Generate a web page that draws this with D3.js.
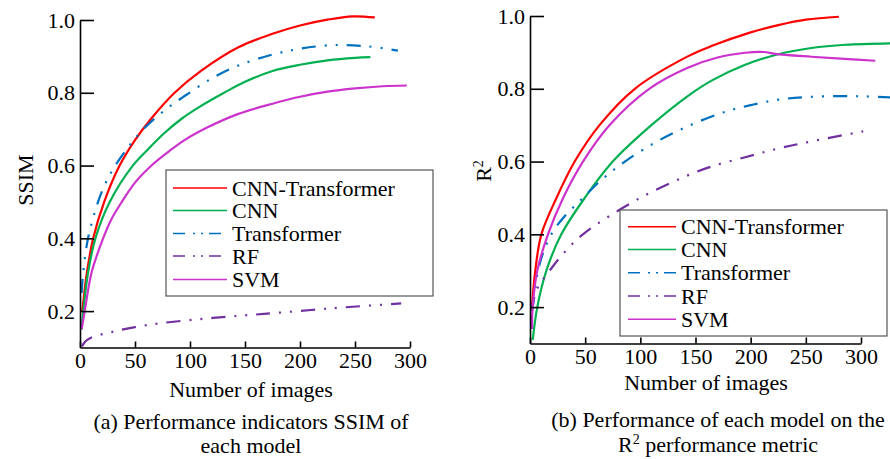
<!DOCTYPE html>
<html>
<head>
<meta charset="utf-8">
<script src="https://cdn.jsdelivr.net/npm/d3@7"></script>
<style>
  html, body { margin: 0; padding: 0; background: #ffffff; }
  svg { display: block; }
  text { font-family: "Liberation Serif", "Times New Roman", serif; fill: #000; }
</style>
</head>
<body>
<svg id="chart" width="890" height="459" font-family="Liberation Serif, Times New Roman, serif"></svg>
<script>
// ---------- data ----------
const seriesNames = ["CNN-Transformer", "CNN", "Transformer", "RF", "SVM"];
const seriesColors = ["#ff0000", "#00b050", "#0070c0", "#7030a0", "#cc33cc"];
const seriesDashed = [false, false, true, true, false];

const xTickValues = [0, 50, 100, 150, 200, 250, 300];
const yTickValues = [0.2, 0.4, 0.6, 0.8, 1.0];

// (a) SSIM  — [number of images, SSIM]
const ssimCnnTransformer = [[2,0.2],[3,0.225],[6,0.30],[12,0.40],[22,0.50],[36,0.60],[50,0.67],[65,0.73],[86,0.80],[110,0.86],[144,0.925],[175,0.962],[200,0.985],[225,1.001],[248,1.01],[268,1.007]];
const ssimCnn = [[1.5,0.15],[3,0.2],[7,0.30],[14,0.40],[27,0.50],[48,0.60],[62,0.645],[77,0.69],[93,0.73],[109,0.762],[131,0.80],[150,0.83],[175,0.86],[200,0.877],[225,0.889],[250,0.896],[264,0.898]];
const ssimTransformer = [[1.5,0.25],[2.7,0.30],[7.3,0.40],[16.4,0.50],[23,0.55],[30,0.59],[40,0.635],[54.5,0.69],[70,0.735],[85,0.77],[98,0.797],[120,0.84],[144,0.875],[175,0.905],[200,0.921],[230,0.931],[260,0.928],[289,0.916]];
const ssimRF = [[1.8,0.103],[5,0.117],[10,0.127],[28,0.142],[50,0.156],[74,0.167],[109,0.178],[144,0.187],[170,0.193],[230,0.208],[292,0.221]];
const ssimSVM = [[1.5,0.15],[4.3,0.20],[10,0.30],[15,0.35],[21,0.40],[29,0.455],[38,0.50],[50,0.553],[65,0.60],[80,0.637],[94,0.668],[116,0.705],[144,0.742],[175,0.77],[200,0.789],[225,0.803],[250,0.812],[275,0.818],[297,0.82]];

// (b) R^2  — [number of images, R^2]
const r2CnnTransformer = [[1.8,0.2],[4.8,0.30],[10.3,0.40],[24,0.50],[40.5,0.60],[63,0.70],[95,0.80],[143,0.889],[165,0.918],[200,0.955],[225,0.975],[250,0.99],[280,0.998]];
const r2Cnn = [[2.5,0.11],[6.6,0.20],[14.8,0.30],[28.4,0.40],[49.6,0.50],[75,0.60],[110,0.70],[143,0.78],[165,0.823],[195,0.866],[225,0.895],[255,0.912],[286,0.921],[327,0.925]];
const r2Transformer = [[2,0.19],[3,0.21],[7.3,0.30],[12,0.35],[19.3,0.40],[30,0.445],[48,0.50],[65,0.55],[86,0.60],[115,0.655],[143,0.697],[175,0.735],[200,0.755],[225,0.77],[250,0.777],[280,0.78],[304,0.779],[327,0.776]];
const r2RF = [[1.5,0.19],[2.7,0.214],[7.3,0.255],[17.8,0.30],[28.4,0.341],[48,0.40],[98,0.497],[143,0.562],[165,0.587],[195,0.612],[225,0.636],[256,0.656],[302,0.683]];
const r2SVM = [[1.8,0.14],[2.4,0.20],[6.6,0.30],[16.3,0.40],[30,0.50],[48,0.60],[72,0.70],[108,0.80],[143,0.858],[170,0.886],[195,0.899],[212,0.901],[222,0.896],[255,0.888],[285,0.882],[313,0.877]];

// ---------- drawing ----------
const svg = d3.select("#chart");
const SERIF = '"Liberation Serif", "Times New Roman", serif';
const FONT = 22;
const DASH = "14,9,2,9,2,9";

function drawPanel(cfg) {
  const x = d3.scaleLinear().domain([0, 300]).range(cfg.xRange);
  const y = d3.scaleLinear().domain([0.1, 1.0]).range(cfg.yRange);
  const g = svg.append("g").attr("font-family", SERIF);

  const line = d3.line().x(d => x(d[0])).y(d => y(d[1])).curve(d3.curveCatmullRom.alpha(0.5));

  cfg.series.forEach((data, i) => {
    g.append("path")
      .datum(data)
      .attr("d", line)
      .attr("fill", "none")
      .attr("stroke", seriesColors[i])
      .attr("stroke-width", 2.2)
      .attr("stroke-dasharray", seriesDashed[i] ? DASH : null);
  });

  // axes
  const xAxis = d3.axisBottom(x).tickValues(xTickValues).tickFormat(d3.format("d"))
    .tickSizeInner(-6).tickSizeOuter(0).tickPadding(5);
  const yAxis = d3.axisLeft(y).tickValues(yTickValues).tickFormat(d3.format(".1f"))
    .tickSizeInner(-14).tickSizeOuter(0).tickPadding(5);

  const gx = g.append("g").attr("transform", `translate(0,${y(0.1)})`).call(xAxis);
  const gy = g.append("g").attr("transform", `translate(${x(0)},0)`).call(yAxis);
  [gx, gy].forEach(a => {
    a.attr("font-family", SERIF).attr("font-size", FONT);
    a.selectAll("path, line").attr("stroke", "#000").attr("stroke-width", 1.6);
    a.selectAll("text").style("font-family", SERIF).style("font-size", FONT + "px").attr("fill", "#000");
  });

  // x axis title
  g.append("text").attr("x", cfg.xTitle[0]).attr("y", cfg.xTitle[1])
    .attr("text-anchor", "middle").style("font-family", SERIF).style("font-size", FONT + "px")
    .text("Number of images");

  // y axis title
  const yt = g.append("text")
    .attr("transform", `translate(${cfg.yTitle[0]},${cfg.yTitle[1]}) rotate(-90)`)
    .attr("text-anchor", "middle").style("font-family", SERIF).style("font-size", FONT + "px");
  yt.append("tspan").text(cfg.yLabel);
  if (cfg.ySup) yt.append("tspan").attr("dy", -8).style("font-size", "14px").text(cfg.ySup);

  // legend
  const L = cfg.legend;
  g.append("rect").attr("x", L.x0).attr("y", L.y0).attr("width", L.x1 - L.x0).attr("height", L.y1 - L.y0)
    .attr("fill", "#fff").attr("stroke", "#555").attr("stroke-width", 1.2);
  seriesNames.forEach((name, i) => {
    const ry = L.rows[i];
    g.append("line").attr("x1", L.lx0).attr("x2", L.lx1).attr("y1", ry).attr("y2", ry)
      .attr("stroke", seriesColors[i]).attr("stroke-width", 1.6)
      .attr("stroke-dasharray", seriesDashed[i] ? "12,8,2,6,2,6" : null);
    g.append("text").attr("x", L.tx).attr("y", ry + 7.5)
      .style("font-family", SERIF).style("font-size", FONT + "px").text(name);
  });

  // caption
  cfg.caption.forEach(c => {
    const t = g.append("text").attr("x", c.x).attr("y", c.y).attr("text-anchor", "middle")
      .style("font-family", SERIF).style("font-size", FONT + "px");
    c.parts.forEach(p => {
      if (p.sup) t.append("tspan").attr("dy", -8).style("font-size", "14px").text(p.text);
      else t.append("tspan").attr("dy", p.after ? 8 : 0).text(p.text);
    });
  });
}

drawPanel({
  xRange: [80, 410], yRange: [347.5, 20],
  series: [ssimCnnTransformer, ssimCnn, ssimTransformer, ssimRF, ssimSVM],
  xTitle: [251, 397], yTitle: [33, 180], yLabel: "SSIM",
  legend: { x0: 166, y0: 170, x1: 433, y1: 296, lx0: 173, lx1: 227, tx: 232,
            rows: [188, 210.5, 233.5, 256, 279.5] },
  caption: [
    { x: 251, y: 429, parts: [{ text: "(a) Performance indicators SSIM of" }] },
    { x: 251, y: 453, parts: [{ text: "each model" }] }
  ]
});

drawPanel({
  xRange: [530, 861], yRange: [343.5, 16],
  series: [r2CnnTransformer, r2Cnn, r2Transformer, r2RF, r2SVM],
  xTitle: [706, 390], yTitle: [491, 171], yLabel: "R", ySup: "2",
  legend: { x0: 620, y0: 210, x1: 887, y1: 336, lx0: 628, lx1: 676, tx: 681,
            rows: [226.7, 249.5, 272.7, 296, 319.3] },
  caption: [
    { x: 718, y: 427, parts: [{ text: "(b) Performance of each model on the" }] },
    { x: 718, y: 452, parts: [{ text: "R" }, { text: "2", sup: true }, { text: " performance metric", after: true }] }
  ]
});
</script>
</body>
</html>
